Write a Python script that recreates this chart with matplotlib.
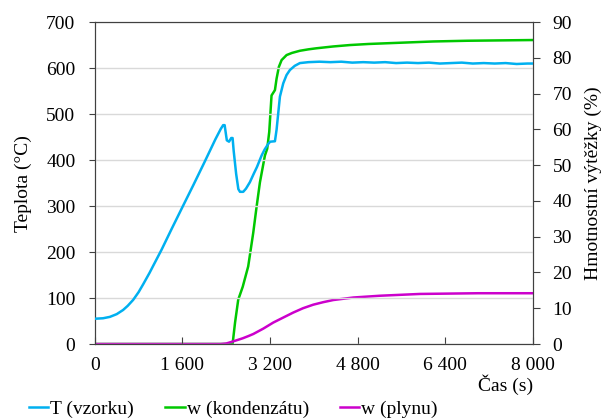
import matplotlib
matplotlib.use("Agg")
import matplotlib.pyplot as plt
from matplotlib.ticker import FuncFormatter

plt.rcParams['font.family'] = ['Liberation Serif', 'DejaVu Serif']
plt.rcParams['font.size'] = 14

# ---- data ----
t_T = [0, 150, 274, 400, 516, 600, 700, 800, 883, 1000, 1065, 1218, 1401,
       1600, 1800, 2000, 2200, 2300, 2343, 2370, 2395, 2410, 2450, 2490,
       2515, 2535, 2580, 2620, 2650, 2709, 2760, 2831, 2900, 2960, 3045,
       3100, 3165, 3200, 3288, 3318, 3379, 3440, 3500, 3562, 3650, 3744,
       3900, 4100, 4300, 4500, 4700, 4900, 5100, 5300, 5500, 5700, 5900,
       6100, 6300, 6500, 6700, 6900, 7100, 7300, 7500, 7700, 7900, 8000]
T_vzorku = [55, 56, 59, 65, 74, 83, 96, 113, 130, 155, 170, 205, 250,
            298, 346, 395, 445, 468, 476, 476, 455, 443, 440, 448,
            448, 420, 370, 337, 331, 331, 338, 352, 370, 385, 410,
            423, 435, 440, 441, 466, 538, 567, 585, 596, 605, 611,
            613, 614, 613, 614, 612, 613, 612, 613, 611, 612, 611,
            612, 610, 611, 612, 610, 611, 610, 611, 609, 610, 610]

t_kond = [0, 2400, 2515, 2560, 2618, 2700, 2800, 2892, 2950, 3014, 3105,
          3147, 3184, 3226, 3288, 3318, 3360, 3410, 3501, 3600, 3744,
          3900, 4049, 4350, 4658, 5000, 5500, 6180, 6800, 7400, 8000]
w_kond = [0, 0, 0, 6, 12.4, 16, 21.7, 31.1, 38, 45.2, 52.7,
          54.6, 59.3, 69.5, 71, 74.2, 77.5, 79.4, 80.8, 81.4, 82,
          82.4, 82.7, 83.2, 83.6, 83.9, 84.2, 84.6, 84.8, 84.9, 85]

t_plyn = [0, 2300, 2400, 2497, 2600, 2700, 2800, 2893, 3075, 3258, 3440,
          3623, 3800, 3988, 4170, 4353, 4718, 5205, 5936, 7000, 8000]
w_plyn = [0, 0, 0.15, 0.6, 1.1, 1.6, 2.2, 2.8, 4.3, 6.0, 7.4,
          8.8, 10.0, 11.0, 11.7, 12.3, 13.0, 13.5, 14.0, 14.2, 14.2]

x_ticks = [0, 1600, 3200, 4800, 6400, 8000]

c_T = '#00B0F0'
c_kond = '#00C800'
c_plyn = '#CC00CC'

fig = plt.figure(figsize=(6.04, 4.18), dpi=100)
ax = fig.add_axes([0.157, 0.177, 0.7255, 0.77])
ax2 = ax.twinx()

lT, = ax.plot(t_T, T_vzorku, color=c_T, lw=1.8, label='T (vzorku)', zorder=3)
lK, = ax2.plot(t_kond, w_kond, color=c_kond, lw=1.8, label='w (kondenzátu)')
lP, = ax2.plot(t_plyn, w_plyn, color=c_plyn, lw=1.8, label='w (plynu)')

ax.set_zorder(ax2.get_zorder() + 1)
ax.patch.set_visible(False)

ax.set_xlim(0, 8000)
ax.set_ylim(0, 700)
ax2.set_ylim(0, 90)
ax.set_xticks(x_ticks)
ax.xaxis.set_major_formatter(FuncFormatter(lambda v, p: f"{int(v):,}".replace(',', ' ')))
ax.set_yticks(range(0, 701, 100))
ax2.set_yticks(range(0, 91, 10))

ax.grid(axis='y', color='#d9d9d9', lw=1)
ax.set_axisbelow(True)

for a in (ax, ax2):
    for s in a.spines.values():
        s.set_color('#404040')
ax.tick_params(axis='x', direction='in', length=5, color='#404040', pad=9)
ax.tick_params(axis='y', direction='out', length=4, color='#404040', pad=10)
ax2.tick_params(axis='y', direction='out', length=5, color='#404040', pad=9)

ax.set_ylabel('Teplota (°C)', labelpad=10)
ax2.set_ylabel('Hmotnostní výtěžky (%)', labelpad=9)
fig.text(0.882, 0.079, 'Čas (s)', ha='right', va='center')

fig.legend(handles=[lT, lK, lP], loc='center left', bbox_to_anchor=(0.035, 0.022),
           ncol=3, frameon=False, handlelength=1.0, handletextpad=0.1,
           columnspacing=1.6, borderaxespad=0)

fig.savefig('out.png', dpi=100)
